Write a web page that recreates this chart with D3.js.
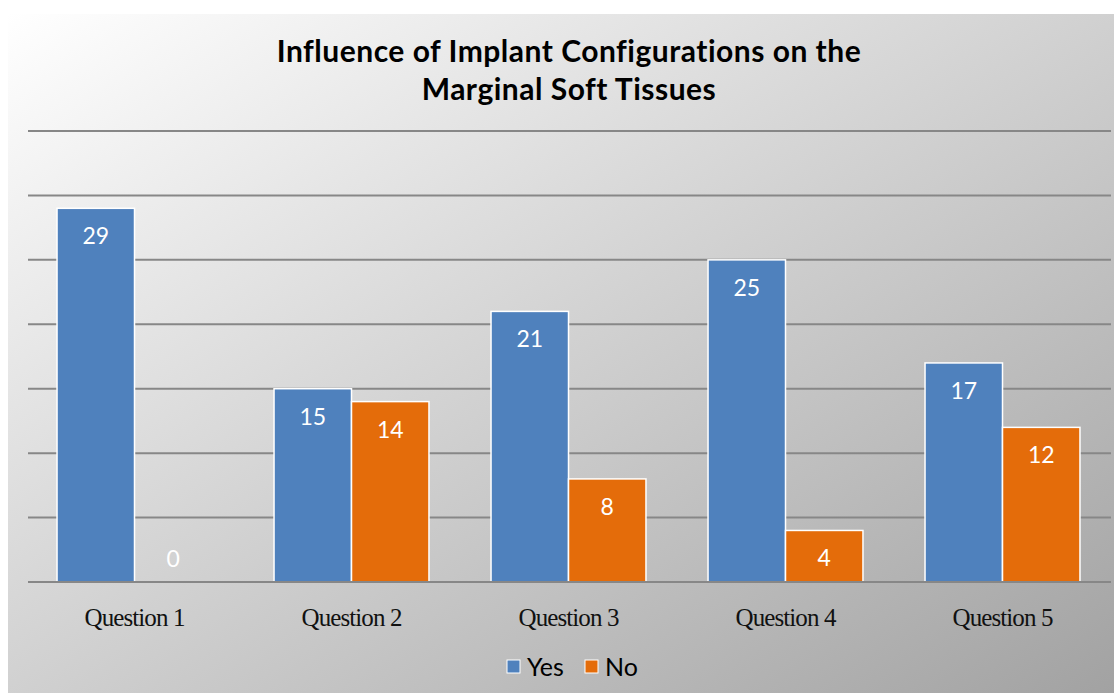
<!DOCTYPE html>
<html>
<head>
<meta charset="utf-8">
<script src="https://cdn.jsdelivr.net/npm/d3@7"></script>
<style>
  body { margin: 0; background: #fff; }
  svg { display: block; }
</style>
</head>
<body>
<div id="chart"></div>
<script>
// data
var questions = ["Question 1", "Question 2", "Question 3", "Question 4", "Question 5"];
var seriesNames = ["Yes", "No"];
var yesValues = [29, 15, 21, 25, 17];
var noValues = [0, 14, 8, 4, 12];
var yTicks = [0, 5, 10, 15, 20, 25, 30, 35];
var titleLines = ["Influence of Implant Configurations on the", "Marginal Soft Tissues"];
var colors = ["#4f81bd", "#e46c0a"];

var W = 1114, H = 693;
var svg = d3.select("#chart").append("svg").attr("width", W).attr("height", H);

var defs = svg.append("defs");
var grad = defs.append("linearGradient").attr("id", "bg")
    .attr("x1", "0%").attr("y1", "0%").attr("x2", "100%").attr("y2", "100%");
grad.append("stop").attr("offset", "0%").attr("stop-color", "#ffffff");
grad.append("stop").attr("offset", "100%").attr("stop-color", "#a2a2a2");

svg.append("rect").attr("x", 8).attr("y", 14).attr("width", W - 8).attr("height", H - 14)
    .attr("fill", "url(#bg)");

// title
svg.append("g").selectAll("text")
    .data(titleLines)
    .enter().append("text")
    .attr("x", 569)
    .attr("y", function(d, i) { return 62 + i * 38; })
    .attr("text-anchor", "middle")
    .style("font-family", "Lato, 'Open Sans', sans-serif")
    .style("font-weight", "bold")
    .style("font-size", "30px")
    .style("letter-spacing", "0.5px")
    .attr("fill", "#000")
    .text(function(d) { return d; });

var x0 = d3.scaleBand().domain(questions).range([26, 1111]).paddingInner(0.286).paddingOuter(0.143);
var x1 = d3.scaleBand().domain(seriesNames).range([0, x0.bandwidth()]);
var y = d3.scaleLinear().domain([0, 35]).range([582, 131]);

// gridlines
svg.append("g").selectAll("line")
    .data(yTicks)
    .enter().append("line")
    .attr("x1", 28).attr("x2", 1111)
    .attr("y1", function(d) { return y(d); })
    .attr("y2", function(d) { return y(d); })
    .attr("stroke", "#878787")
    .attr("stroke-width", 2);

var rows = questions.map(function(q, i) {
    return { q: q, vals: [yesValues[i], noValues[i]] };
});

var groups = svg.append("g").selectAll("g")
    .data(rows)
    .enter().append("g")
    .attr("transform", function(d) { return "translate(" + x0(d.q) + ",0)"; });

groups.selectAll("rect")
    .data(function(d) { return d.vals.map(function(v, j) { return { s: seriesNames[j], v: v, j: j }; }); })
    .enter().append("rect")
    .attr("x", function(d) { return x1(d.s); })
    .attr("y", function(d) { return y(d.v); })
    .attr("width", x1.bandwidth())
    .attr("height", function(d) { return y(0) - y(d.v); })
    .attr("fill", function(d) { return colors[d.j]; })
    .attr("stroke", function(d) { return d.v > 0 ? "#fff" : "none"; })
    .attr("stroke-width", 1.5);

groups.selectAll("text")
    .data(function(d) { return d.vals.map(function(v, j) { return { s: seriesNames[j], v: v, j: j }; }); })
    .enter().append("text")
    .attr("x", function(d) { return x1(d.s) + x1.bandwidth() / 2; })
    .attr("y", function(d) { return d.v > 0 ? y(d.v) + 36 : y(0) - 15; })
    .attr("text-anchor", "middle")
    .style("font-family", "Lato, 'Open Sans', sans-serif")
    .style("font-size", "23px")
    .attr("fill", "#fff")
    .text(function(d) { return d.v; });

// baseline
svg.append("line").attr("x1", 28).attr("x2", 1111).attr("y1", y(0)).attr("y2", y(0))
    .attr("stroke", "#878787").attr("stroke-width", 2);

// category labels
var xAxis = svg.append("g").attr("transform", "translate(0," + y(0) + ")")
    .call(d3.axisBottom(x0).tickSize(0).tickPadding(0));
xAxis.select(".domain").remove();
xAxis.selectAll("text")
    .attr("dy", 0)
    .attr("y", 44)
    .style("font-family", "'Liberation Serif', 'DejaVu Serif', serif")
    .style("font-size", "25px")
    .style("letter-spacing", "-0.9px")
    .attr("fill", "#111");

// legend
var legend = svg.append("g").selectAll("g")
    .data(seriesNames)
    .enter().append("g")
    .attr("transform", function(d, i) { return "translate(" + (507 + i * 78) + ",660)"; });
legend.append("rect").attr("width", 13).attr("height", 13)
    .attr("fill", function(d, i) { return colors[i]; })
    .attr("stroke", "#fff").attr("stroke-width", 1);
legend.append("text").attr("x", 20).attr("y", 16)
    .style("font-family", "Lato, 'Open Sans', sans-serif")
    .style("font-size", "25px")
    .attr("fill", "#000")
    .text(function(d) { return d; });
</script>
</body>
</html>
